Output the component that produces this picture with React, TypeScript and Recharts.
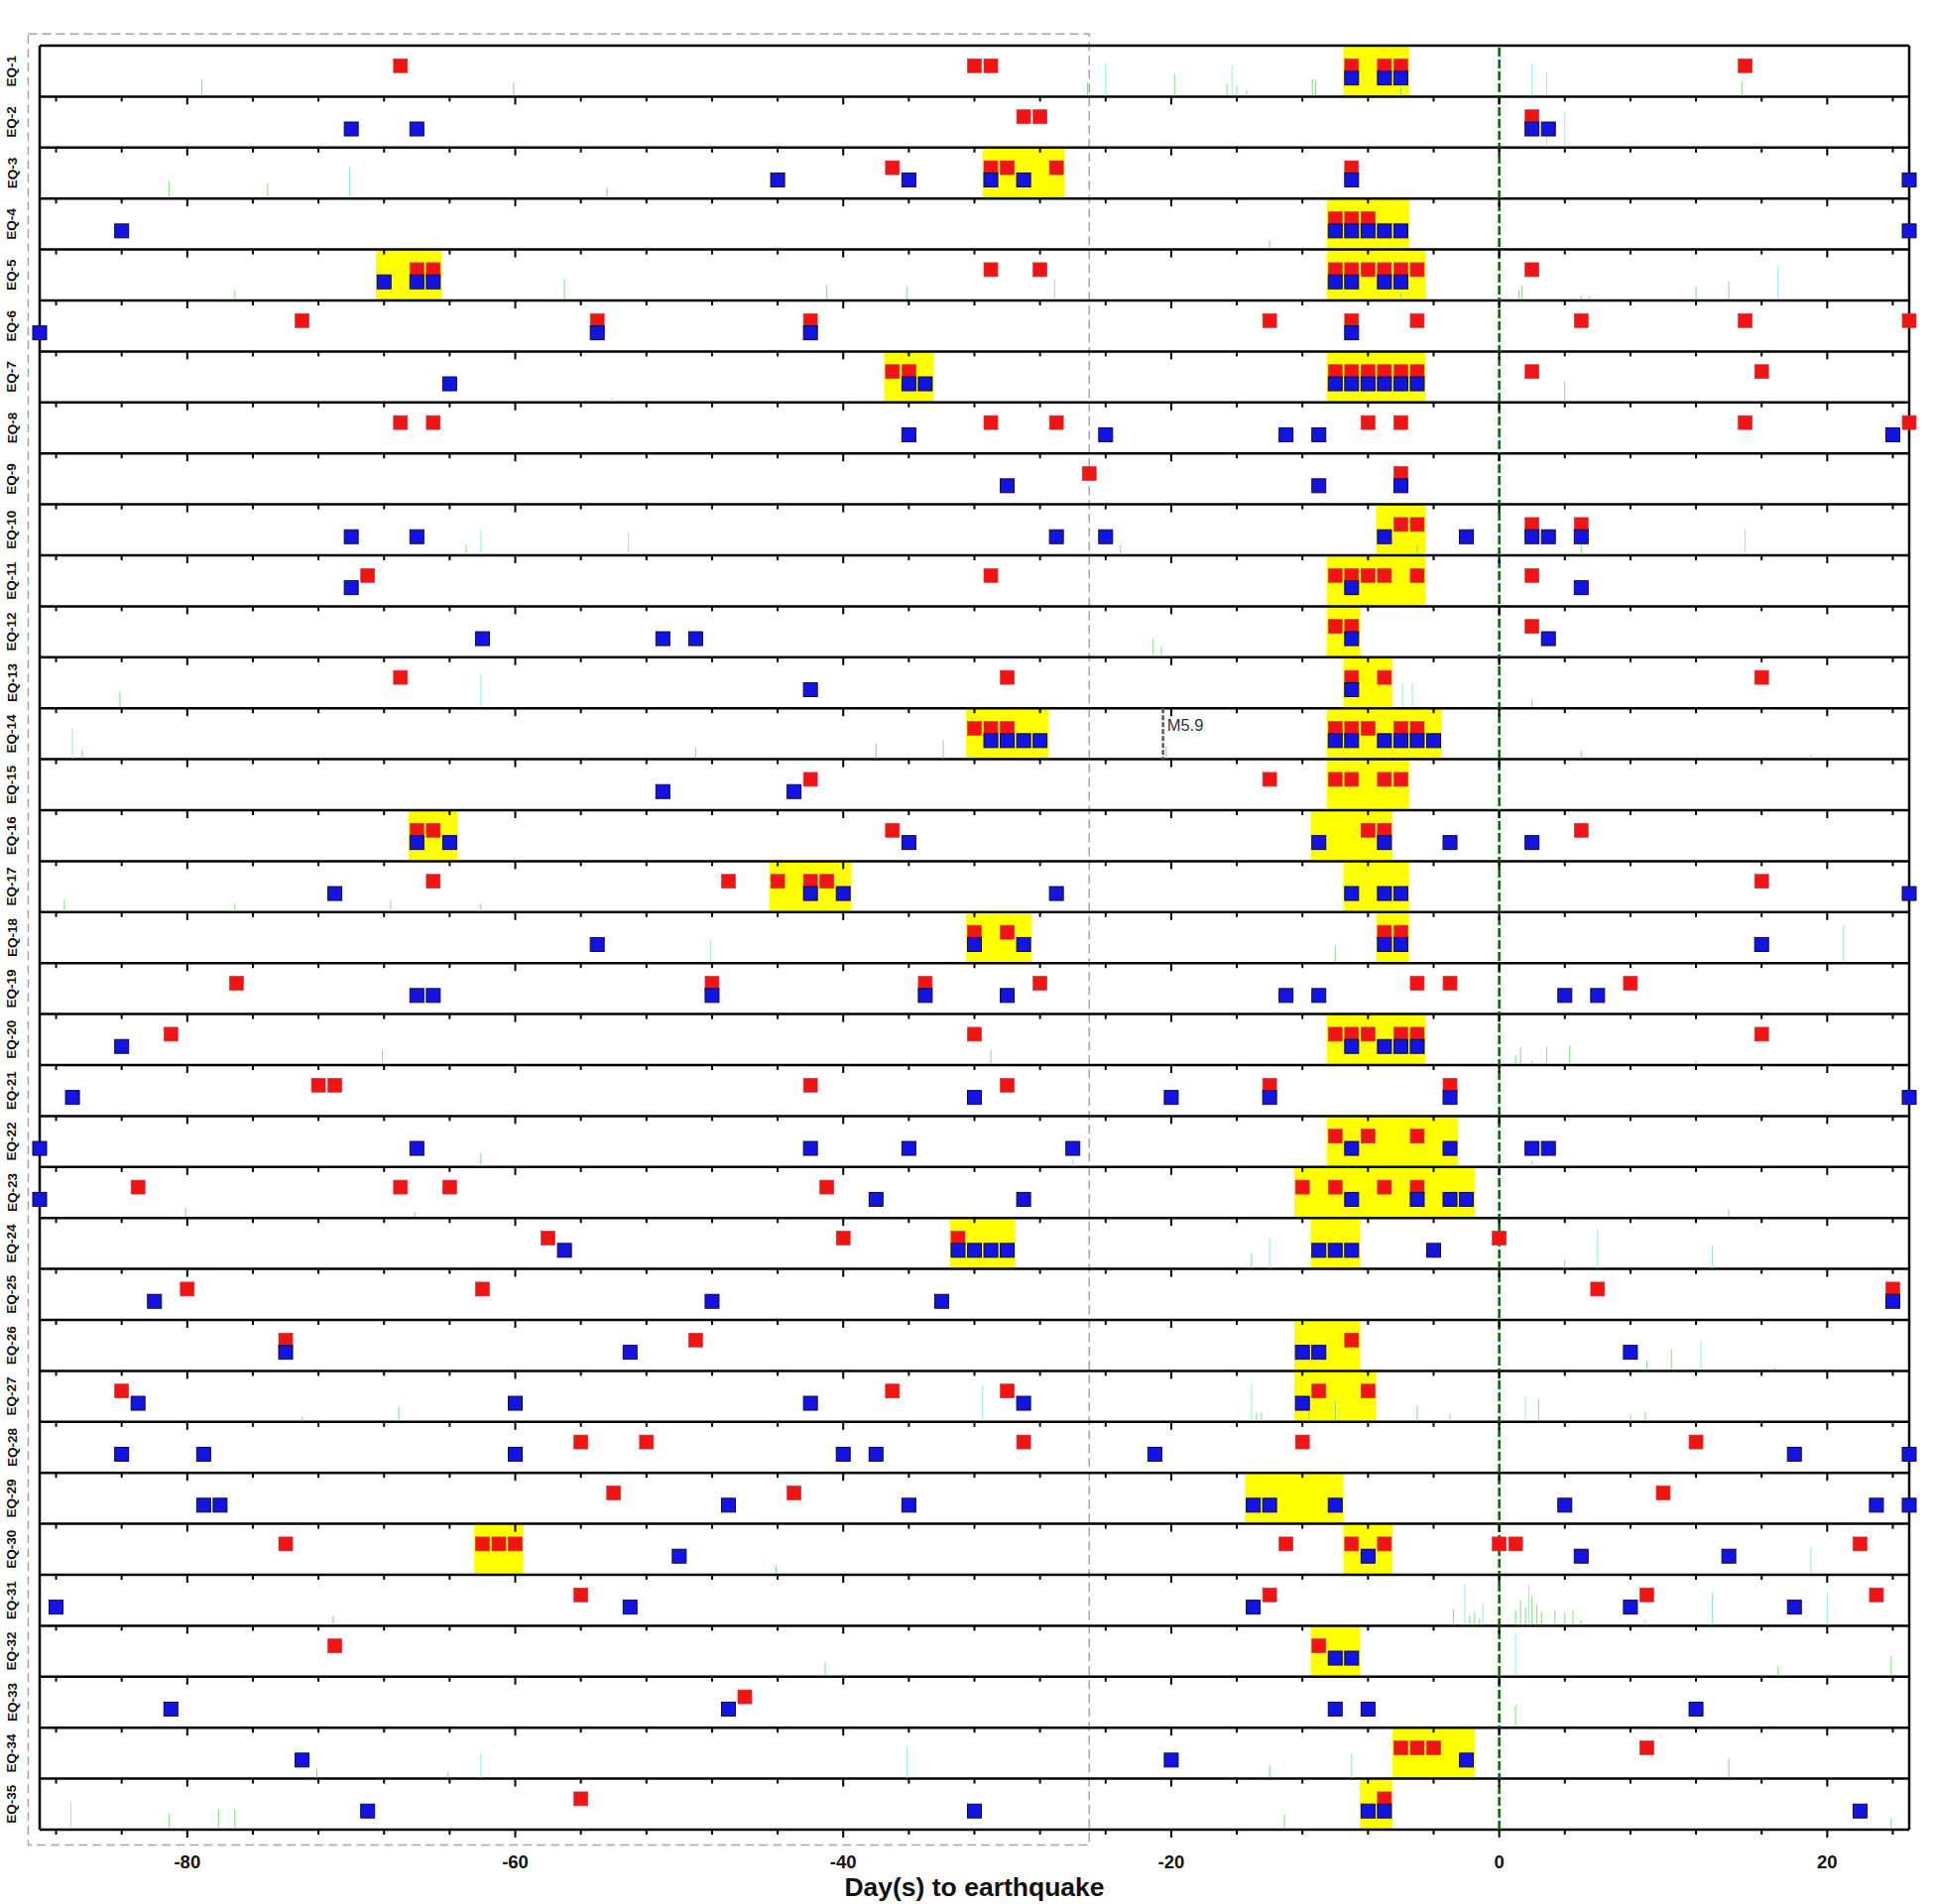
import {
  Label,
  ReferenceArea,
  ReferenceLine,
  Scatter,
  ScatterChart,
  XAxis,
  YAxis,
} from "recharts";

const FONT = '"Liberation Sans", Arial, Helvetica, sans-serif';
const ROW_PX = 1799 / 35;

const X_DOMAIN: [number, number] = [-89, 25];
const WINDOW_END = -25;
const EQ_LABELS = Array.from({ length: 35 }, (_, i) => `EQ-${i + 1}`);
const MAJOR_TICKS = [-80, -60, -40, -20, 0, 20];
const MINOR_TICKS = [
  -88, -84, -80, -76, -72, -68, -64, -60, -56, -52, -48, -44, -40, -36, -32,
  -28, -24, -20, -16, -12, -8, -4, 0, 4, 8, 12, 16, 20, 24,
];

// days with a red (upper) mark, one list per event
const RED_DAYS: number[][] = [
  [-67, -32, -31, -9, -7, -6, 15],
  [-29, -28, 2],
  [-37, -31, -30, -27, -9],
  [-10, -9, -8],
  [-66, -65, -31, -28, -10, -9, -8, -7, -6, -5, 2],
  [-73, -55, -42, -14, -9, -5, 5, 15, 25],
  [-37, -36, -10, -9, -8, -7, -6, -5, 2, 16],
  [-67, -65, -31, -27, -8, -6, 15, 25],
  [-25, -6],
  [-6, -5, 2, 5],
  [-69, -31, -10, -9, -8, -7, -5, 2],
  [-10, -9, 2],
  [-67, -30, -9, -7, 16],
  [-32, -31, -30, -10, -9, -8, -6, -5],
  [-42, -14, -10, -9, -7, -6],
  [-66, -65, -37, -8, -7, 5],
  [-65, -47, -44, -42, -41, 16],
  [-32, -30, -7, -6],
  [-77, -48, -35, -28, -5, -3, 8],
  [-81, -32, -10, -9, -8, -6, -5, 16],
  [-72, -71, -42, -30, -14, -3],
  [-10, -8, -5],
  [-83, -67, -64, -41, -12, -10, -7, -5],
  [-58, -40, -33, 0],
  [-80, -62, 6, 24],
  [-74, -49, -9],
  [-84, -37, -30, -11, -8],
  [-56, -52, -29, -12, 12],
  [-54, -43, 10],
  [-74, -62, -61, -60, -13, -9, -7, 0, 1, 22],
  [-56, -14, 9, 23],
  [-71, -11],
  [-46],
  [-6, -5, -4, 9],
  [-56, -7],
];

// days with a blue (lower) mark
const BLUE_DAYS: number[][] = [
  [-9, -7, -6],
  [-70, -66, 2, 3],
  [-44, -36, -31, -29, -9, 25],
  [-84, -10, -9, -8, -7, -6, 25],
  [-68, -66, -65, -10, -9, -7, -6],
  [-89, -55, -42, -9],
  [-64, -36, -35, -10, -9, -8, -7, -6, -5],
  [-36, -24, -13, -11, 24],
  [-30, -11, -6],
  [-70, -66, -27, -24, -7, -2, 2, 3, 5],
  [-70, -9, 5],
  [-62, -51, -49, -9, 3],
  [-42, -9],
  [-31, -30, -29, -28, -10, -9, -7, -6, -5, -4],
  [-51, -43],
  [-66, -64, -36, -11, -7, -3, 2],
  [-71, -42, -40, -27, -9, -7, -6, 25],
  [-55, -32, -29, -7, -6, 16],
  [-66, -65, -48, -35, -30, -13, -11, 4, 6],
  [-84, -9, -7, -6, -5],
  [-87, -32, -20, -14, -3, 25],
  [-89, -66, -42, -36, -26, -9, -3, 2, 3],
  [-89, -38, -29, -9, -5, -3, -2],
  [-57, -33, -32, -31, -30, -11, -10, -9, -4],
  [-82, -48, -34, 24],
  [-74, -53, -12, -11, 8],
  [-83, -60, -42, -29, -12],
  [-84, -79, -60, -40, -38, -21, 18, 25],
  [-79, -78, -47, -36, -15, -14, -10, 4, 23, 25],
  [-50, -8, 5, 14],
  [-88, -53, -15, 8, 18],
  [-10, -9],
  [-81, -47, -10, -8, 12],
  [-73, -20, -2],
  [-69, -32, -8, -7, 22],
];

// highlighted clusters [from, to] in days
const HIGHLIGHTS: [number, number][][] = [
  [[-9.5, -5.5]],
  [],
  [[-31.5, -26.5]],
  [[-10.5, -5.5]],
  [[-68.5, -64.5], [-10.5, -4.5]],
  [],
  [[-37.5, -34.5], [-10.5, -4.5]],
  [],
  [],
  [[-7.5, -4.5]],
  [[-10.5, -4.5]],
  [[-10.5, -8.5]],
  [[-9.5, -6.5]],
  [[-32.5, -27.5], [-10.5, -3.5]],
  [[-10.5, -5.5]],
  [[-66.5, -63.5], [-11.5, -6.5]],
  [[-44.5, -39.5], [-9.5, -5.5]],
  [[-32.5, -28.5], [-7.5, -5.5]],
  [],
  [[-10.5, -4.5]],
  [],
  [[-10.5, -2.5]],
  [[-12.5, -1.5]],
  [[-33.5, -29.5], [-11.5, -8.5]],
  [],
  [[-12.5, -8.5]],
  [[-12.5, -7.5]],
  [],
  [[-15.5, -9.5]],
  [[-62.5, -59.5], [-9.5, -6.5]],
  [],
  [[-11.5, -8.5]],
  [],
  [[-6.5, -1.5]],
  [[-8.5, -6.5]],
];

// faint background signal: [event, day, relative amplitude]
const GREEN_SPIKES: [number, number, number][] = [
  [1, -79.1, 0.34], [1, -60.1, 0.28], [1, -25.1, 0.28], [1, -19.8, 0.44],
  [1, -16.6, 0.25], [1, -16.0, 0.2], [1, -15.4, 0.12], [1, -11.4, 0.35],
  [1, -11.2, 0.3], [1, -6, 0.2], [1, 14.8, 0.3],
  [3, -81.1, 0.34], [3, -75.1, 0.3], [3, -54.4, 0.22],
  [4, -14.0, 0.18],
  [5, -77.1, 0.2], [5, -57.0, 0.41], [5, -41.0, 0.31], [5, -36.1, 0.26],
  [5, -6, 0.15], [5, 1.2, 0.2], [5, 1.4, 0.3], [5, 5, 0.1], [5, 5.5, 0.08],
  [5, 12, 0.27], [5, 14, 0.38],
  [7, 4.0, 0.4],
  [10, -63, 0.2], [10, -23.1, 0.2], [10, -5, 0.2], [10, 5, 0.3],
  [12, -21.1, 0.36], [12, -20.6, 0.2],
  [13, -84.1, 0.33], [13, 2, 0.17],
  [14, -86.4, 0.18], [14, -49, 0.23], [14, -38, 0.3], [14, -33.9, 0.38],
  [14, -20.3, 0.25], [14, 5, 0.17], [14, 19, 0.08],
  [17, -87.5, 0.25], [17, -77.1, 0.17], [17, -67.6, 0.22], [17, -62.1, 0.17],
  [18, -10, 0.33],
  [20, -68.1, 0.3], [20, -31, 0.3], [20, 1, 0.2], [20, 1.3, 0.35],
  [20, 2, 0.07], [20, 2.9, 0.35], [20, 4.3, 0.38], [20, 12, 0.1],
  [22, -62.1, 0.27], [22, 2, 0.12],
  [23, -80.1, 0.2], [23, -66.1, 0.1], [23, 14, 0.17],
  [24, -15.1, 0.3], [24, 4, 0.18],
  [26, 9, 0.2], [26, 10.5, 0.42], [26, 16.8, 0.07],
  [27, -67.1, 0.3], [27, -73, 0.1], [27, -14.8, 0.18], [27, -14.5, 0.18],
  [27, -11.6, 0.2], [27, -10, 0.4], [27, -5, 0.33], [27, -3, 0.15],
  [27, 2.4, 0.45], [27, 8, 0.15], [27, 8.9, 0.2],
  [30, -44.1, 0.17],
  [31, -71.1, 0.2], [31, -2.8, 0.33], [31, -1.8, 0.2], [31, -1.5, 0.25],
  [31, -1.2, 0.15], [31, 1.0, 0.3], [31, 1.3, 0.5], [31, 1.6, 0.35],
  [31, 2.0, 0.6], [31, 2.3, 0.4], [31, 2.6, 0.25], [31, 3.4, 0.3],
  [31, 4.0, 0.25], [31, 4.5, 0.3], [31, 5.0, 0.1],
  [32, -41.1, 0.27], [32, 17, 0.2], [32, 23.9, 0.4],
  [33, 1, 0.45],
  [34, -72.1, 0.2], [34, -64.1, 0.12], [34, -14, 0.27], [34, 14, 0.4],
  [35, -81.1, 0.33], [35, -78.1, 0.4], [35, -77.1, 0.42], [35, -13.1, 0.3],
  [35, 23.9, 0.22],
];

const CYAN_SPIKES: [number, number, number][] = [
  [1, -24, 0.64], [1, -16.3, 0.6], [1, 2, 0.64], [1, 2.9, 0.48],
  [2, 4, 0.69], [2, 2.9, 0.3],
  [3, -70.1, 0.62],
  [5, -27.1, 0.43], [5, 17, 0.67],
  [7, -54.1, 0.1],
  [10, -62.1, 0.5], [10, -53.1, 0.45], [10, 15, 0.52],
  [13, -62.1, 0.67], [13, -5.9, 0.48], [13, -5.3, 0.48],
  [14, -87, 0.6],
  [18, -48.1, 0.45], [18, 21, 0.75],
  [22, -26, 0.15],
  [24, -14, 0.6], [24, 6, 0.75], [24, 13, 0.45],
  [26, 12.3, 0.58],
  [27, -31.5, 0.72], [27, -15.1, 0.75], [27, 1.6, 0.5],
  [30, 19, 0.55],
  [31, -2.1, 0.8], [31, -1.0, 0.45], [31, 1.8, 0.8], [31, 8.9, 0.12],
  [31, 13, 0.65], [31, 20, 0.65],
  [32, 1, 0.85],
  [34, -62.1, 0.48], [34, -36.1, 0.62], [34, -9, 0.5],
  [35, -87.1, 0.55],
];

const SHOCK_NOTE = { event: 14, day: -20.5, text: "M5.9" };

const ROW_CENTERS = EQ_LABELS.map((_, i) => i + 0.5);

const redPoints = RED_DAYS.flatMap((days, i) =>
  days.map((d) => ({ x: d, y: i + 0.395 }))
);
const bluePoints = BLUE_DAYS.flatMap((days, i) =>
  days.map((d) => ({ x: d, y: i + 0.635 }))
);
const tickPoints = EQ_LABELS.flatMap((_, i) =>
  MINOR_TICKS.map((d) => ({ x: d, y: i + 1, major: d % 20 === 0 }))
);
const spikePoints = [
  ...GREEN_SPIKES.map(([r, d, a]) => ({ x: d, y: r, amp: a, c: "#7ee07e" })),
  ...CYAN_SPIKES.map(([r, d, a]) => ({ x: d, y: r, amp: a, c: "#8feaea" })),
];
const notePoints = [{ x: SHOCK_NOTE.day, y: SHOCK_NOTE.event - 1, text: SHOCK_NOTE.text }];

function RedMark(props: any) {
  const { cx, cy } = props;
  return (
    <rect x={cx - 7} y={cy - 7} width={14} height={14} fill="#f01414" stroke="#cf3a3a" strokeWidth={0.7} />
  );
}

function BlueMark(props: any) {
  const { cx, cy } = props;
  return (
    <rect x={cx - 7} y={cy - 7} width={14} height={14} fill="#1414e2" stroke="#0a0a40" strokeWidth={1} />
  );
}

function RowTick(props: any) {
  const { cx, cy, payload } = props;
  const len = payload.major ? 8 : 5;
  return <line x1={cx} x2={cx} y1={cy} y2={cy + len} stroke="#000" strokeWidth={2} />;
}

function Spike(props: any) {
  const { cx, cy, payload } = props;
  return (
    <line x1={cx} x2={cx} y1={cy - 1} y2={cy - payload.amp * ROW_PX} stroke={payload.c} strokeWidth={1} />
  );
}

function ShockNote(props: any) {
  const { cx, cy, payload } = props;
  return (
    <g>
      <line x1={cx} x2={cx} y1={cy} y2={cy + ROW_PX} stroke="#5e5e5e" strokeWidth={2.6} strokeDasharray="5 2" />
      <text x={cx + 4} y={cy + 22.5} fontSize={16.5} fill="#333" fontFamily={FONT}>
        {payload.text}
      </text>
    </g>
  );
}

function XTick(props: any) {
  const { x, y, payload } = props;
  return (
    <text x={x} y={y + 38.5} textAnchor="middle" fontSize={18.5} fontWeight="bold" fill="#111" fontFamily={FONT}>
      {payload.value}
    </text>
  );
}

function YTick(props: any) {
  const { x, y, payload } = props;
  const label = EQ_LABELS[Math.floor(payload.value)];
  const tx = x - 28;
  return (
    <text
      x={tx}
      y={y}
      transform={`rotate(-90, ${tx}, ${y})`}
      textAnchor="middle"
      dominantBaseline="central"
      fontSize={13.5}
      fontWeight="bold"
      fill="#111"
      fontFamily={FONT}
    >
      {label}
    </text>
  );
}

function AxisTitle(props: any) {
  const vb = props.viewBox ?? { x: 40, y: 1845, width: 1885, height: 75 };
  return (
    <text
      x={vb.x + vb.width / 2}
      y={vb.y + 66.7}
      textAnchor="middle"
      fontSize={26.5}
      fontWeight="bold"
      fill="#111"
      fontFamily={FONT}
    >
      Day(s) to earthquake
    </text>
  );
}

export default function App() {
  return (
    <div style={{ position: "absolute", left: 0, top: 0, width: 1950, height: 1920, background: "#fff" }}>
      <ScatterChart width={1950} height={1920} margin={{ top: 46, right: 25, bottom: 0, left: 0 }}>
        <XAxis
          type="number"
          dataKey="x"
          domain={X_DOMAIN}
          ticks={MAJOR_TICKS}
          interval={0}
          height={75}
          tickSize={0}
          tickMargin={0}
          tickLine={false}
          axisLine={false}
          tick={<XTick />}
        >
          <Label content={AxisTitle} />
        </XAxis>
        <YAxis
          type="number"
          dataKey="y"
          domain={[0, 35]}
          reversed
          ticks={ROW_CENTERS}
          interval={0}
          width={40}
          tickSize={0}
          tickMargin={0}
          tickLine={false}
          axisLine={false}
          tick={<YTick />}
        />

        {HIGHLIGHTS.flatMap((spans, i) =>
          spans.map(([a, b], j) => (
            <ReferenceArea
              key={`hl-${i}-${j}`}
              x1={a}
              x2={b}
              y1={i}
              y2={i + 1}
              fill="#ffff00"
              fillOpacity={1}
              stroke="none"
            />
          ))
        )}

        <ReferenceArea
          x1={-89.7}
          x2={WINDOW_END}
          y1={-0.23}
          y2={35.3}
          fill="none"
          fillOpacity={0}
          stroke="#a6a6a6"
          strokeWidth={1.5}
          strokeDasharray="9 5"
          ifOverflow="visible"
        />

        {EQ_LABELS.map((_, i) => (
          <ReferenceLine key={`row-${i}`} y={i} stroke="#000" strokeWidth={2.5} />
        ))}
        <ReferenceLine y={35} stroke="#000" strokeWidth={2.5} />
        <ReferenceLine x={X_DOMAIN[0]} stroke="#000" strokeWidth={2.5} />
        <ReferenceLine x={X_DOMAIN[1]} stroke="#000" strokeWidth={2.5} />
        <ReferenceLine x={0} stroke="#0b6b0b" strokeWidth={2.6} strokeDasharray="9 3" />

        <Scatter data={spikePoints} shape={<Spike />} isAnimationActive={false} />
        <Scatter data={tickPoints} shape={<RowTick />} isAnimationActive={false} />
        <Scatter data={notePoints} shape={<ShockNote />} isAnimationActive={false} />
        <Scatter data={redPoints} shape={<RedMark />} isAnimationActive={false} />
        <Scatter data={bluePoints} shape={<BlueMark />} isAnimationActive={false} />
      </ScatterChart>
    </div>
  );
}
